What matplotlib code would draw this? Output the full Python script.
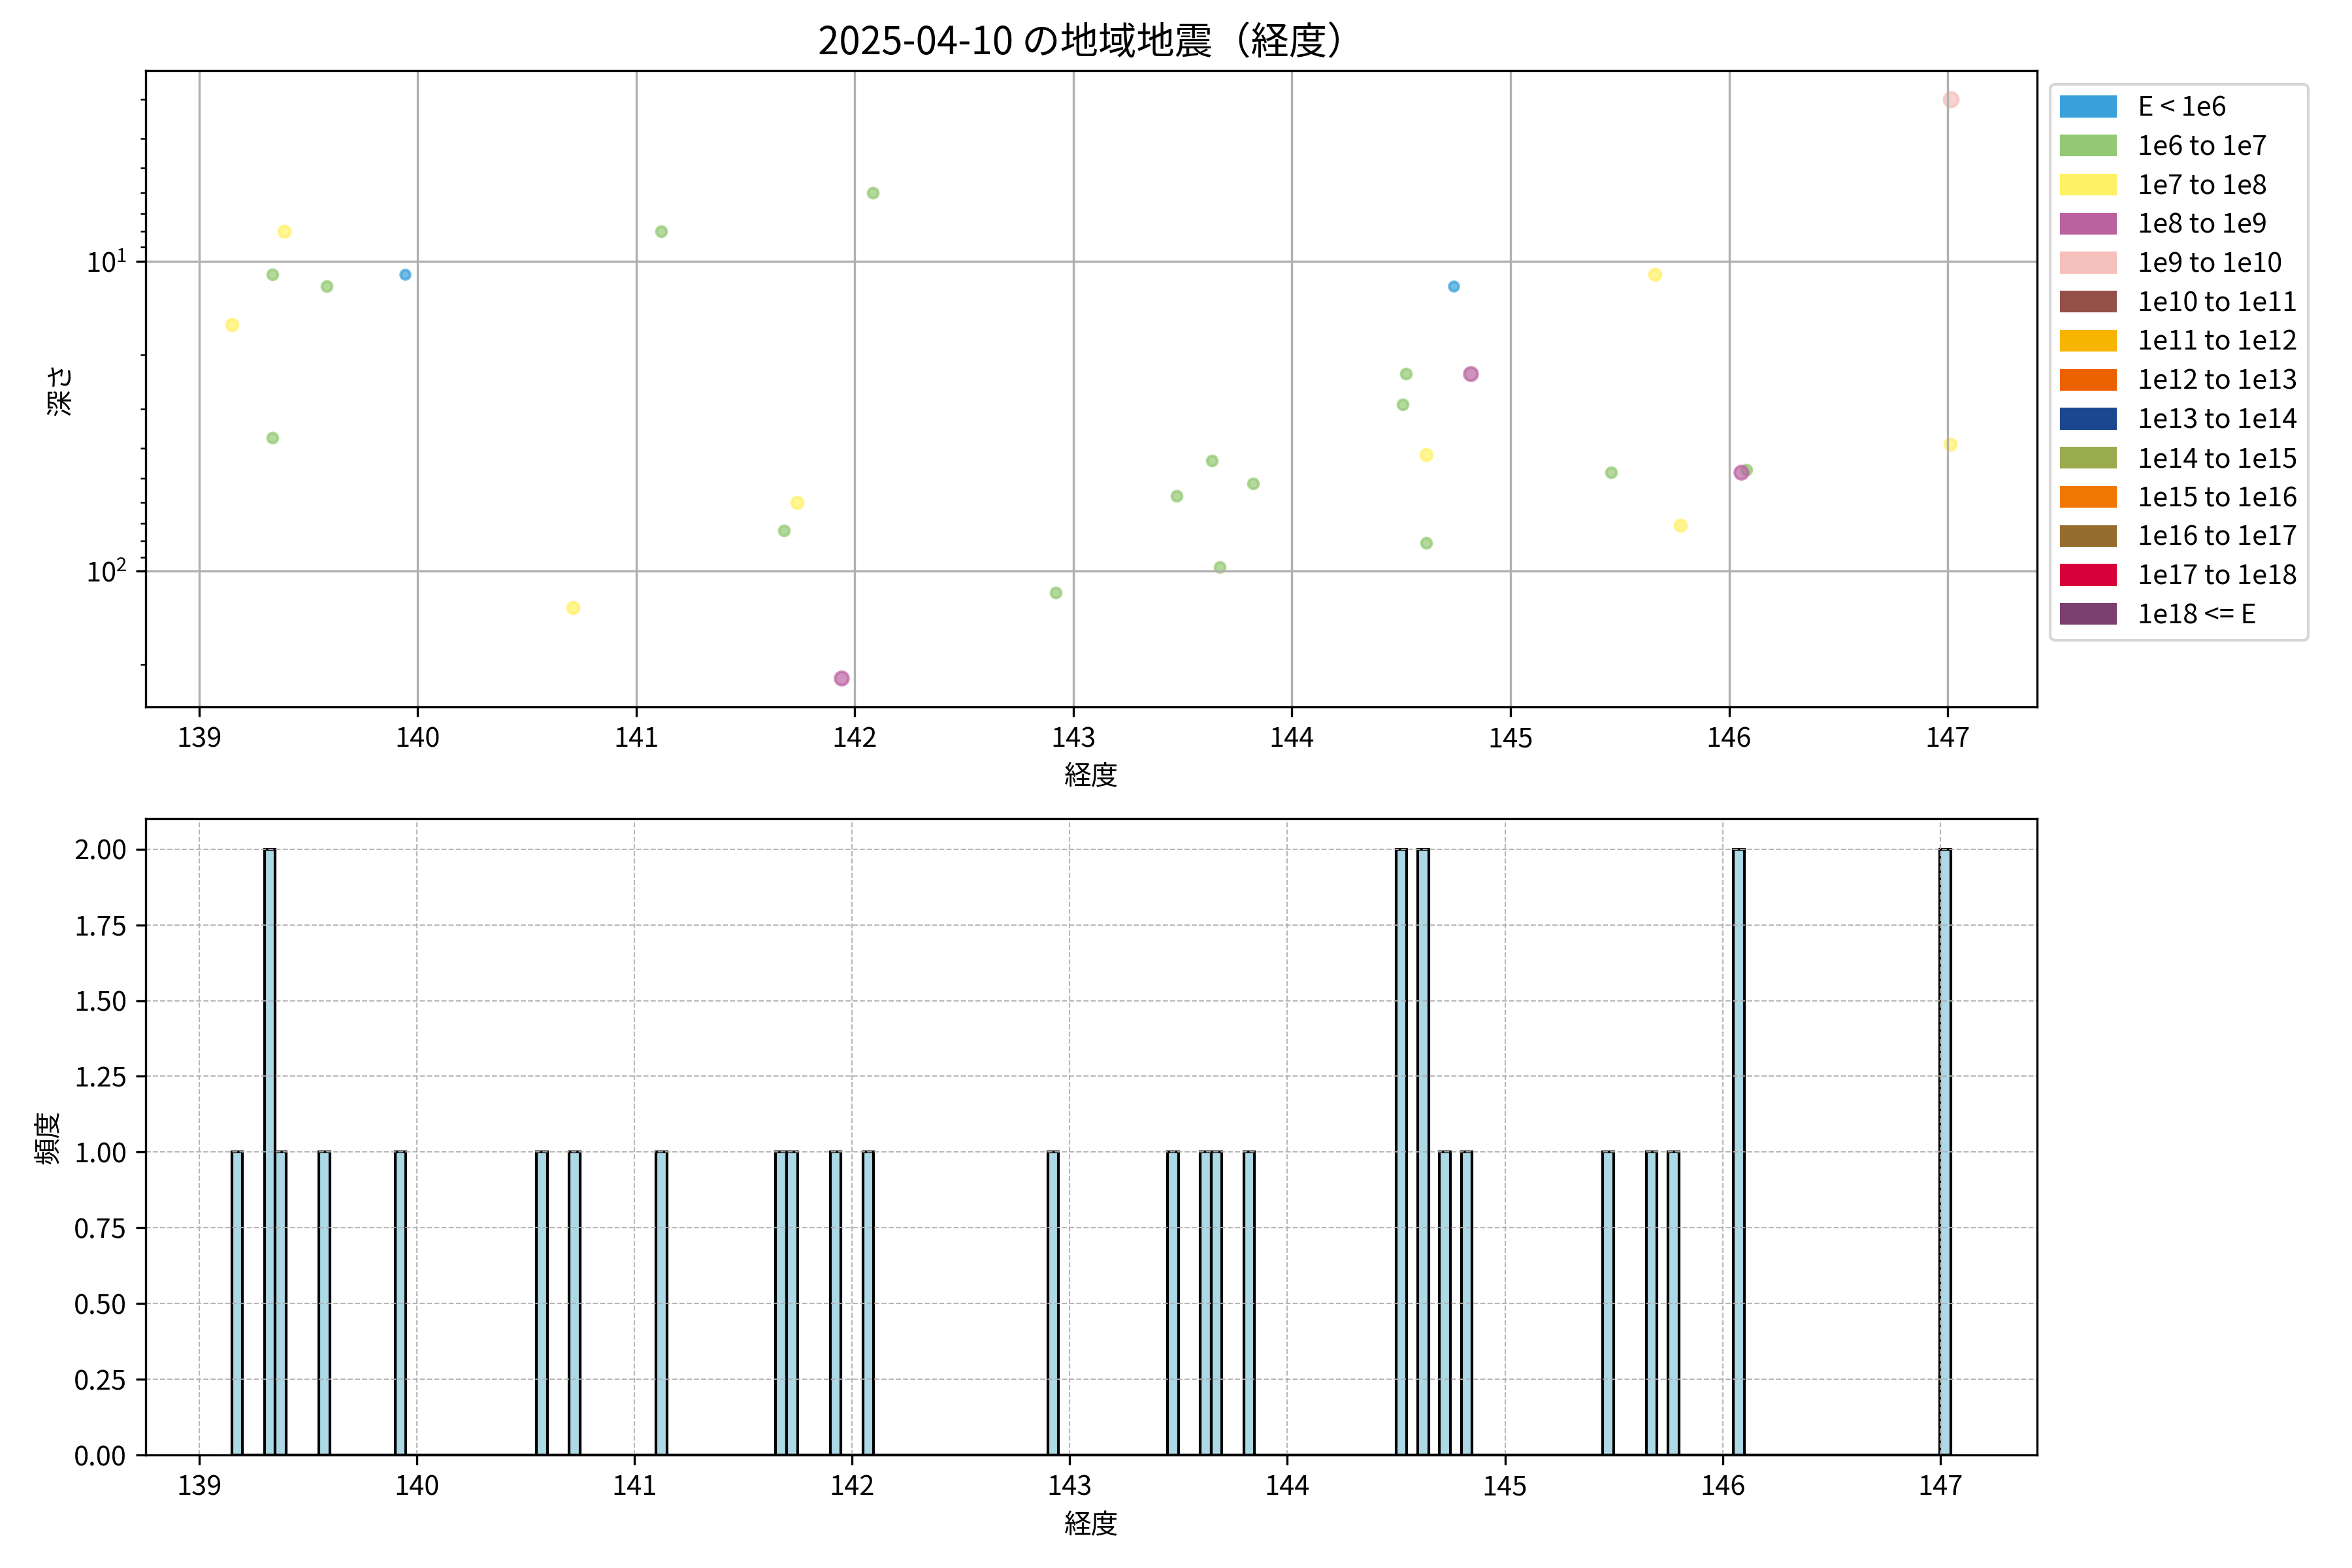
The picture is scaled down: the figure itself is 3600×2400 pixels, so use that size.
import numpy as np
import matplotlib
matplotlib.use("Agg")
import matplotlib.pyplot as plt
from matplotlib.patches import Patch

plt.rcParams['font.family'] = ['Noto Sans CJK JP', 'DejaVu Sans']

# energy classes (legend)
class_labels = ["E < 1e6", "1e6 to 1e7", "1e7 to 1e8", "1e8 to 1e9", "1e9 to 1e10",
                "1e10 to 1e11", "1e11 to 1e12", "1e12 to 1e13", "1e13 to 1e14",
                "1e14 to 1e15", "1e15 to 1e16", "1e16 to 1e17", "1e17 to 1e18",
                "1e18 <= E"]
class_colors = ["#3aa0db", "#94c973", "#fff166", "#bb62a1", "#f5bfbb",
                "#955049", "#f8b500", "#ec6100", "#1b4690",
                "#9aab4e", "#ef7702", "#956d2c", "#d7003a", "#7b3f70"]
class_sizes = [12, 14, 18, 24, 28, 32, 36, 40, 44, 48, 52, 56, 60, 64]

# events of the day
lons = [139.389, 139.334, 139.583, 139.942, 139.149, 139.334, 141.115, 142.083,
        141.735, 141.675, 140.710, 141.938, 142.920, 144.740, 144.522, 144.817,
        144.506, 144.613, 143.635, 143.822, 143.471, 144.613, 143.670, 147.015,
        145.660, 145.460, 146.056, 146.079, 145.776, 147.013, 140.570]
depths = [8.0, 11.0, 12.0, 11.0, 16.0, 37.0, 8.0, 6.0,
          60.0, 74.0, 131.0, 221.0, 117.0, 12.0, 23.0, 23.0,
          29.0, 42.0, 44.0, 52.0, 57.0, 81.0, 97.0, 3.0,
          11.0, 48.0, 48.0, 47.0, 71.0, 39.0, 0.0]
classes = [2, 1, 1, 0, 2, 1, 1, 1,
           2, 1, 2, 3, 1, 0, 1, 3,
           1, 2, 1, 1, 1, 1, 1, 4,
           2, 1, 3, 1, 2, 2, 1]

lon = np.array(lons)
dep = np.array(depths)
cls = np.array(classes)

fig, (ax1, ax2) = plt.subplots(2, 1, figsize=(12, 8))
fig.subplots_adjust(left=0.062, right=0.866, top=0.955, bottom=0.072, hspace=0.176)

# depth vs longitude (depth 0 can't go on a log axis)
ok = dep > 0
for i in range(len(class_labels)):
    m = ok & (cls == i)
    if m.any():
        ax1.scatter(lon[m], dep[m], s=class_sizes[i], color=class_colors[i], alpha=0.7)
ax1.set_yscale('log')
ax1.invert_yaxis()
ax1.set_title('2025-04-10 の地域地震（経度）', fontsize=14)
ax1.set_xlabel('経度')
ax1.set_ylabel('深さ')
ax1.grid(True)
handles = [Patch(color=c, label=l) for c, l in zip(class_colors, class_labels)]
ax1.legend(handles=handles, loc='upper left', bbox_to_anchor=(1.0, 1.0),
           labelspacing=0.45)

# histogram
bins = np.arange(lon.min(), lon.max() + 0.05, 0.05)
ax2.hist(lon, bins=bins, color='lightblue', edgecolor='black')
ax2.set_xlabel('経度')
ax2.set_ylabel('頻度')
ax2.grid(True, linestyle='--', linewidth=0.5, alpha=0.9)

plt.savefig("out.png", dpi=300)
